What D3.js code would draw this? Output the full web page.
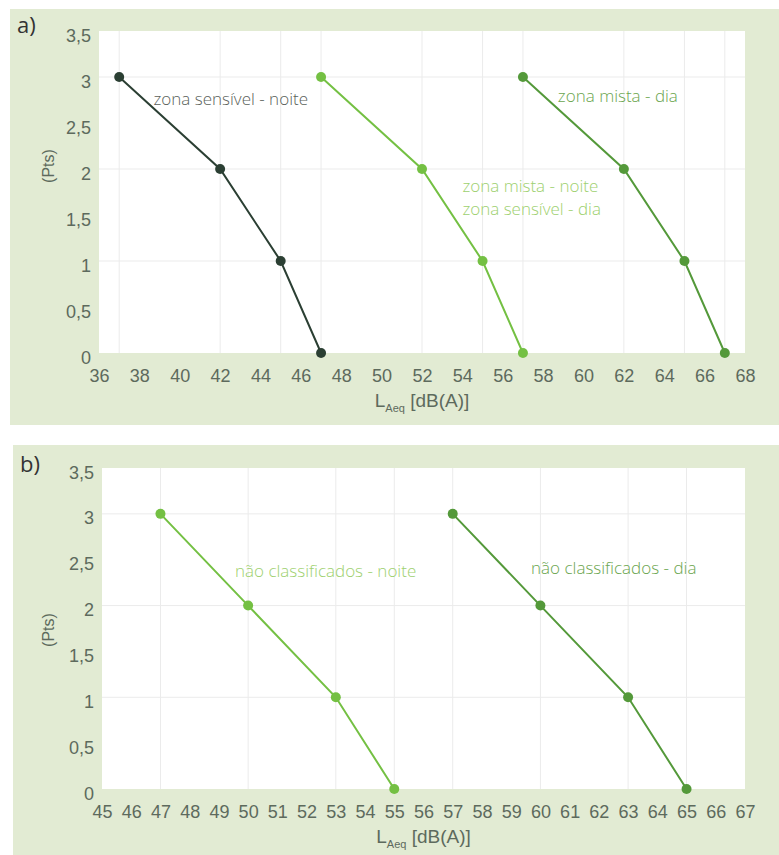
<!DOCTYPE html>
<html><head><meta charset="utf-8">
<script src="https://cdn.jsdelivr.net/npm/d3@7/dist/d3.min.js"></script>
<style>
html,body{margin:0;padding:0;background:#fff;}
svg text{font-family:"Open Sans","Noto Sans",sans-serif;}
svg .tick text, svg .ttl{font-family:"Liberation Sans Narrow","Liberation Sans",sans-serif;}
</style></head>
<body>
<svg id="c" width="779" height="855"></svg>
<script>
// ---- data ----
const yTicks = [0, 0.5, 1, 1.5, 2, 2.5, 3, 3.5];
const yGrid = [1, 2, 3];
const pointsY = [3, 2, 1, 0];

const xTicksA = [36,38,40,42,44,46,48,50,52,54,56,58,60,62,64,66,68];
const sensivelNoite = [37, 42, 45, 47];
const mistaNoiteSensivelDia = [47, 52, 55, 57];
const mistaDia = [57, 62, 65, 67];

const xTicksB = [45,46,47,48,49,50,51,52,53,54,55,56,57,58,59,60,61,62,63,64,65,66,67];
const naoClassNoite = [47, 50, 53, 55];
const naoClassDia = [57, 60, 63, 65];

const labelsA = ["zona sensível - noite", "zona mista - noite", "zona sensível - dia", "zona mista - dia"];
const labelsB = ["não classificados - noite", "não classificados - dia"];

// ---- style ----
const C_DARK = "#2b3f33", C_LIGHT = "#74c043", C_MID = "#54993a";
const T_DARK = "#5a5f5a", T_LIGHT = "#9dd06e", T_MID = "#6aa54e";
const BG = "#e2ebd3", TICK = "#5d6a5d";

const svg = d3.select("#c");

function panel(cfg){
  const g = svg.append("g");
  g.append("rect").attr("x", cfg.bx).attr("y", cfg.by).attr("width", cfg.bw).attr("height", cfg.bh).attr("fill", BG);
  const x = d3.scaleLinear().domain(cfg.xDomain).range(cfg.xRange);
  const y = d3.scaleLinear().domain([0, 3.5]).range(cfg.yRange);
  g.append("rect").attr("x", x.range()[0]).attr("y", y(3.5))
    .attr("width", x.range()[1]-x.range()[0]).attr("height", y(0)-y(3.5)).attr("fill", "#fff");
  // grid
  const xs = Array.from(new Set(cfg.series.flatMap(s => s.xs)));
  g.selectAll(".vg").data(xs).enter().append("line")
    .attr("x1", d=>x(d)).attr("x2", d=>x(d)).attr("y1", y(3.5)).attr("y2", y(0))
    .attr("stroke", "#ebebeb").attr("stroke-width", 1);
  g.selectAll(".hg").data(yGrid).enter().append("line")
    .attr("x1", x.range()[0]).attr("x2", x.range()[1]).attr("y1", d=>y(d)).attr("y2", d=>y(d))
    .attr("stroke", "#ebebeb").attr("stroke-width", 1);
  // axes
  const ya = g.append("g").attr("transform", `translate(${x.range()[0]},0)`)
    .call(d3.axisLeft(y).tickValues(yTicks).tickSize(0).tickPadding(8)
      .tickFormat(d => String(d).replace(".", ",")));
  ya.select(".domain").remove();
  ya.selectAll("text").attr("fill", TICK).attr("dy", "0.56em").style("font-size", "18px");
  const xa = g.append("g").attr("transform", `translate(0,${y(0)})`)
    .call(d3.axisBottom(x).tickValues(cfg.xTicks).tickSize(0).tickPadding(16).tickFormat(d3.format("d")));
  xa.select(".domain").remove();
  xa.selectAll("text").attr("fill", TICK).style("font-size", "18px");
  // titles
  g.append("text").attr("class", "ttl").attr("transform", `translate(54,${cfg.ptsY}) rotate(-90)`)
    .attr("text-anchor", "middle").attr("fill", TICK).style("font-size", "16px").text("(Pts)");
  const xt = g.append("text").attr("class", "ttl").attr("x", (x.range()[0]+x.range()[1])/2).attr("y", y(0)+54)
    .attr("text-anchor", "middle").attr("fill", TICK).style("font-size", "19px");
  xt.append("tspan").text("L");
  xt.append("tspan").attr("dy", 5).style("font-size", "11px").text("Aeq");
  xt.append("tspan").attr("dy", -5).text(" [dB(A)]");
  g.append("text").attr("x", cfg.bx+7).attr("y", cfg.letterY).attr("fill", "#333")
    .style("font-size", "22px").text(cfg.letter);
  // series
  const line = d3.line().x(d=>x(d[0])).y(d=>y(d[1]));
  cfg.series.forEach(s => {
    const pts = s.xs.map((v,i)=>[v, pointsY[i]]);
    g.append("path").datum(pts).attr("d", line).attr("fill", "none")
      .attr("stroke", s.color).attr("stroke-width", 2);
    g.selectAll(null).data(pts).enter().append("circle")
      .attr("cx", d=>x(d[0])).attr("cy", d=>y(d[1])).attr("r", 5).attr("fill", s.color);
  });
  cfg.labels.forEach(l => {
    g.append("text").attr("x", x(l.x)).attr("y", y(l.y)).attr("fill", l.color)
      .style("font-size", "17px").style("font-weight", 300).text(l.text);
  });
}

panel({
  letter: "a)", letterY: 33, ptsY: 166, bx: 10, by: 9, bw: 769, bh: 416,
  xDomain: [36, 68], xRange: [99, 745], yRange: [353, 31], xTicks: xTicksA,
  series: [
    {xs: sensivelNoite, color: C_DARK},
    {xs: mistaNoiteSensivelDia, color: C_LIGHT},
    {xs: mistaDia, color: C_MID}
  ],
  labels: [
    {text: labelsA[0], x: 38.7, y: 2.7, color: T_DARK},
    {text: labelsA[1], x: 54.0, y: 1.75, color: T_LIGHT},
    {text: labelsA[2], x: 54.0, y: 1.5, color: T_LIGHT},
    {text: labelsA[3], x: 58.73, y: 2.73, color: T_MID}
  ]
});

panel({
  letter: "b)", letterY: 472, ptsY: 630, bx: 13, by: 445, bw: 766, bh: 410,
  xDomain: [45, 67], xRange: [102, 745], yRange: [789, 468], xTicks: xTicksB,
  series: [
    {xs: naoClassNoite, color: C_LIGHT},
    {xs: naoClassDia, color: C_MID}
  ],
  labels: [
    {text: labelsB[0], x: 49.55, y: 2.31, color: T_LIGHT},
    {text: labelsB[1], x: 59.68, y: 2.345, color: T_MID}
  ]
});
</script>
</body></html>
